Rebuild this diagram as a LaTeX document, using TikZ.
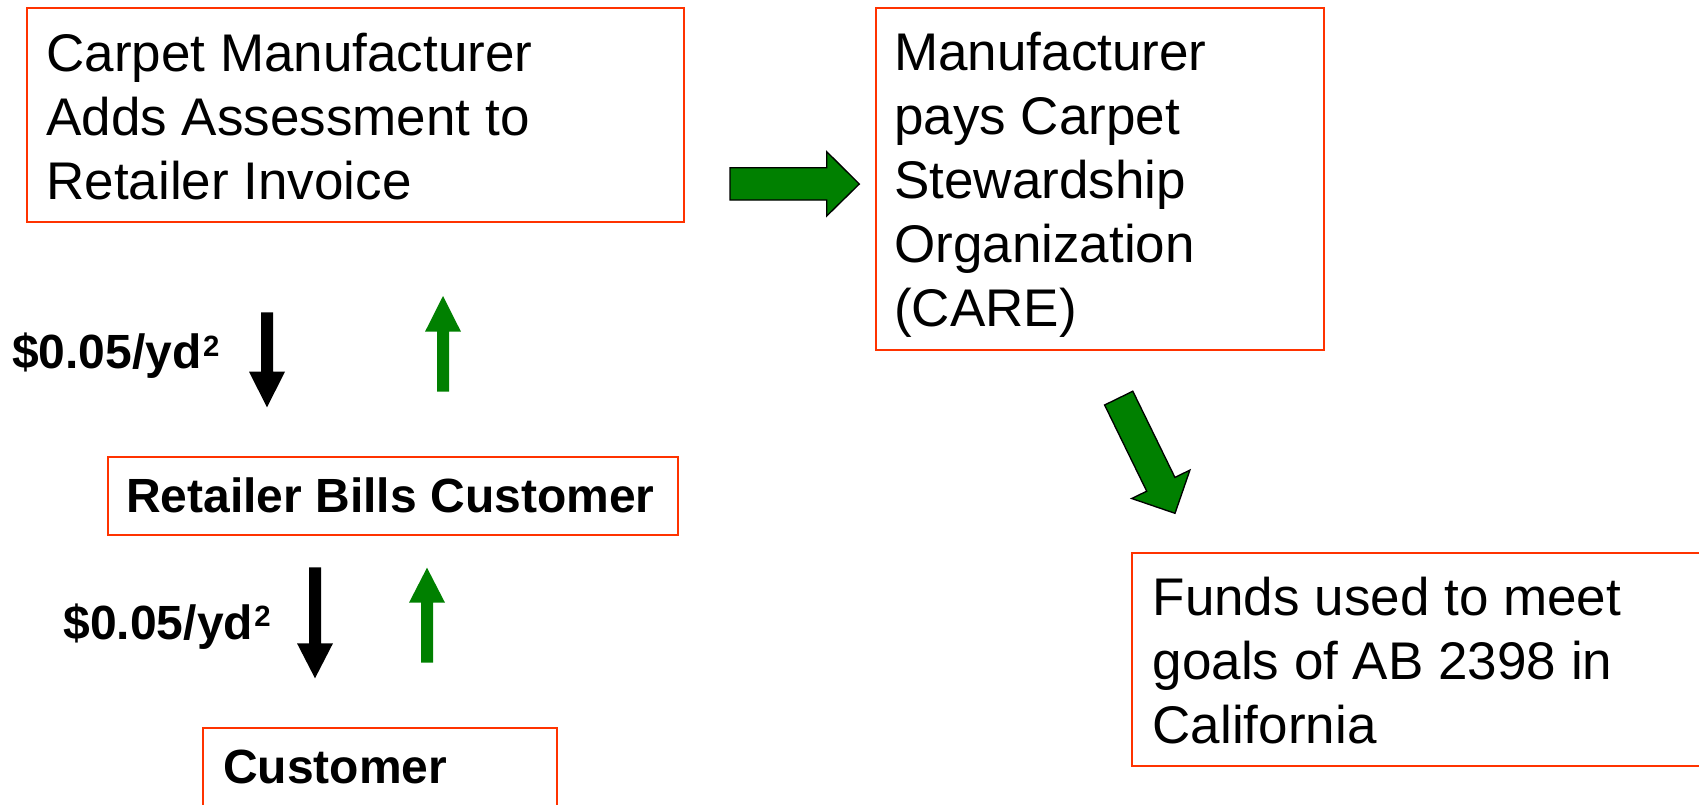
\documentclass[tikz,border=0pt]{standalone}
\usepackage{fontspec}
\setmainfont{Liberation Sans}
\definecolor{boxred}{RGB}{255,51,0}
\definecolor{flowgreen}{RGB}{0,128,0}
\newcommand\sqmark{\kern1pt\raisebox{9.2pt}{\fontsize{22pt}{22pt}\selectfont 2}}
\begin{document}
\begin{tikzpicture}[x=0.75pt,y=-0.75pt,
  framebox/.style={draw=boxred, line width=1.5pt, anchor=north west, inner sep=0pt},
  bodytext/.style={anchor=base west, inner sep=0pt, align=left, font=\fontsize{39.75pt}{48pt}\selectfont},
  boldtext/.style={anchor=base west, inner sep=0pt, font=\fontsize{36pt}{43pt}\selectfont\bfseries},
  bigarrow/.style={fill=flowgreen, draw=black, line width=1pt, line join=miter},
  blackarrow/.style={fill=black},
  greenarrow/.style={fill=flowgreen}]
\useasboundingbox (0,0) rectangle (1699,804);
\clip (0,0) rectangle (1699,804);
\fill[white] (0,0) rectangle (1699,804);
% boxes
\node[framebox, minimum width=492.75pt, minimum height=160.5pt] (manu) at (26,7) {};
\node[framebox, minimum width=336pt, minimum height=256.5pt] (care) at (875,7) {};
\node[framebox, minimum width=427.5pt, minimum height=58.95pt] (retail) at (107,455.7) {};
\node[framebox, minimum width=265.05pt, minimum height=75pt] (cust) at (202.3,727) {};
\node[framebox, minimum width=450pt, minimum height=160pt] (funds) at (1131,551.7) {};
% texts (base anchor = baseline of the last line)
\node[bodytext] (manutext) at (46.2,199) {Carpet Manufacturer\\Adds Assessment to\\Retailer Invoice};
\node[bodytext] (caretext) at (894,326.7) {Manufacturer\\pays Carpet\\Stewardship\\Organization\\(CARE)};
\node[bodytext] (fundstext) at (1152.4,743.3) {Funds used to meet\\goals of AB 2398 in\\California};
\node[boldtext] (retailtext) at (126,512.3) {Retailer Bills Customer};
\node[boldtext] (custtext) at (223,783.3) {Customer};
\node[boldtext] (fee1) at (12,368.3) {\$0.05/yd\sqmark};
\node[boldtext] (fee2) at (63.3,639) {\$0.05/yd\sqmark};
% big green block arrows
\path[bigarrow] (730,167.7) -- (826.7,167.7) -- (826.7,151.7) -- (859.3,184) -- (826.7,216) -- (826.7,200) -- (730,200) -- cycle;
\path[bigarrow] (1104.6,405.0) -- (1146.7,491.2) -- (1131.7,498.5) -- (1175,513.3) -- (1189.9,470.1) -- (1174.9,477.4) -- (1132.8,391.2) -- cycle;
% small arrows
\fill[blackarrow] (261,312.3) -- (273,312.3) -- (273,371.7) -- (285,371.7) -- (267,407.3) -- (249,371.7) -- (261,371.7) -- cycle;
\fill[greenarrow] (437,391.7) -- (449,391.7) -- (449,331.7) -- (461,331.7) -- (443,296) -- (425,331.7) -- (437,331.7) -- cycle;
\fill[blackarrow] (309,567.3) -- (321,567.3) -- (321,643.3) -- (333,643.3) -- (315,678.3) -- (297,643.3) -- (309,643.3) -- cycle;
\fill[greenarrow] (421,662.7) -- (433,662.7) -- (433,602.7) -- (445,602.7) -- (427,567.7) -- (409,602.7) -- (421,602.7) -- cycle;
\end{tikzpicture}
\end{document}
